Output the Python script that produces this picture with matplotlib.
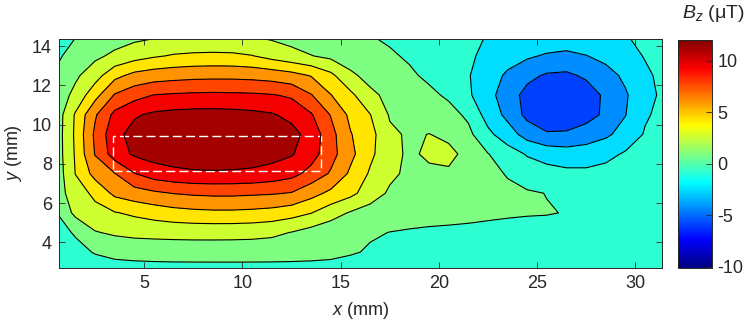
"""Filled contour map of Bz over the scanned area, with colorbar."""

import matplotlib
matplotlib.use("Agg")
import matplotlib.pyplot as plt
import numpy as np

from matplotlib.cm import ScalarMappable
from matplotlib.colors import LinearSegmentedColormap, Normalize
from matplotlib.patches import Rectangle

plt.rcParams['font.family'] = ['Liberation Sans', 'DejaVu Sans']
plt.rcParams['axes.unicode_minus'] = False
plt.rcParams['mathtext.fontset'] = 'custom'
plt.rcParams['mathtext.rm'] = 'Liberation Sans'
plt.rcParams['mathtext.it'] = 'Liberation Sans:italic'

# scan grid (mm)
x_mm = [0.5, 1.5, 2.5, 3.5, 4.5, 5.5, 6.5, 7.5, 8.5, 9.5, 10.5, 11.5, 12.5,
        13.5, 14.5, 15.5, 16.5, 17.5, 18.5, 19.5, 20.5, 21.5, 22.5, 23.5,
        24.5, 25.5, 26.5, 27.5, 28.5, 29.5, 30.5, 31.5]
y_mm = [2.5, 3.5, 4.5, 5.5, 6.5, 7.5, 8.5, 9.5, 10.5, 11.5, 12.5, 13.5, 14.5]

# Bz (uT), one row per y value
bz_y02_5 = [-0.2, -0.05, 0.05, 0.12, 0.17, 0.2, 0.2, 0.2, 0.2, 0.2, 0.2, 0.2,
            0.2, 0.18, 0.15, 0.1, 0.05, 0.05, 0.1, 0.15, 0.2, 0.2, 0.2, 0.2,
            0.2, 0.2, 0.2, 0.2, 0.2, 0.2, 0.2, 0.2]
bz_y03_5 = [0.1, 0.45, 1.0, 1.35, 1.48, 1.55, 1.6, 1.62, 1.63, 1.63, 1.62, 1.6,
            1.55, 1.48, 1.35, 1.05, 0.75, 0.6, 0.5, 0.45, 0.42, 0.4, 0.38,
            0.35, 0.33, 0.3, 0.3, 0.3, 0.3, 0.3, 0.3, 0.3]
bz_y04_5 = [0.35, 1.05, 2.5, 2.85, 3.05, 3.12, 3.17, 3.2, 3.2, 3.18, 3.12,
            2.95, 2.55, 1.95, 1.55, 1.25, 1.05, 0.88, 0.8, 0.75, 0.72, 0.68,
            0.6, 0.5, 0.42, 0.38, 0.35, 0.32, 0.3, 0.3, 0.3, 0.3]
bz_y05_5 = [0.8, 3.05, 3.75, 4.2, 4.6, 5.0, 5.35, 5.55, 5.65, 5.65, 5.55, 5.35,
            4.95, 4.35, 3.3, 2.45, 1.9, 1.55, 1.35, 1.25, 1.2, 1.15, 1.1,
            1.05, 1.0, 0.97, 0.85, 0.5, 0.4, 0.35, 0.35, 0.35]
bz_y06_5 = [1.8, 3.45, 4.7, 6.4, 7.0, 7.45, 7.8, 8.0, 8.1, 8.1, 8.0, 7.9,
            7.65, 6.6, 5.6, 4.75, 3.45, 2.35, 1.95, 1.8, 1.65, 1.5, 1.35,
            1.2, 1.05, 0.87, 0.5, 0.35, 0.3, 0.3, 0.3, 0.35]
bz_y07_5 = [1.5, 4.35, 6.6, 7.7, 9.4, 10.3, 10.7, 10.9, 10.95, 10.9, 10.8,
            10.5, 10.0, 8.9, 7.55, 5.7, 4.1, 2.95, 2.25, 2.25, 2.4, 1.85, 1.3,
            0.8, 0.2, -0.2, -0.4, -0.4, -0.2, 0.0, 0.15, 0.3]
bz_y08_5 = [1.6, 4.5, 7.85, 10.3, 11.4, 11.85, 12.05, 12.15, 12.2, 12.15,
            12.0, 11.75, 11.3, 10.15, 8.4, 6.45, 4.65, 3.2, 2.3, 2.9, 2.95,
            2.2, 0.95, 0.0, -0.95, -1.45, -1.75, -1.75, -1.3, -0.6, -0.2, 0.1]
bz_y09_5 = [1.6, 4.6, 8.1, 10.6, 11.8, 12.0, 12.15, 12.25, 12.3, 12.25, 12.15,
            12.0, 11.7, 10.5, 8.35, 6.1, 4.9, 2.9, 2.4, 2.63, 2.3, 1.3, -0.4,
            -1.75, -3.25, -4.1, -4.0, -3.4, -2.85, -1.9, -0.65, -0.1]
bz_y10_5 = [1.55, 4.5, 7.55, 9.9, 10.95, 11.45, 11.65, 11.75, 11.75, 11.7,
            11.55, 11.3, 10.7, 9.6, 7.65, 5.6, 4.35, 2.45, 2.05, 1.8, 1.45,
            0.6, -1.5, -3.0, -4.7, -5.2, -5.4, -4.95, -3.9, -2.6, -1.0, -0.3]
bz_y11_5 = [1.5, 3.1, 5.4, 7.9, 8.85, 9.5, 9.65, 9.75, 9.8, 9.75, 9.7, 9.55,
            9.2, 7.85, 6.05, 4.7, 2.95, 2.2, 1.7, 1.25, 0.65, -0.55, -1.95,
            -3.5, -4.75, -5.45, -5.55, -5.05, -3.95, -2.75, -1.3, -0.45]
bz_y12_5 = [1.1, 2.3, 3.6, 5.5, 6.5, 6.9, 7.1, 7.25, 7.3, 7.3, 7.2, 7.0, 6.6,
            5.9, 4.7, 2.9, 2.1, 1.7, 1.15, 0.6, 0.0, -0.7, -1.7, -2.85, -3.85,
            -4.45, -4.55, -4.0, -3.2, -2.2, -1.1, -0.35]
bz_y13_5 = [0.6, 1.5, 2.25, 2.95, 3.6, 4.1, 4.45, 4.6, 4.65, 4.6, 4.35, 3.7,
            3.15, 2.65, 2.2, 1.8, 1.45, 1.1, 0.7, 0.35, 0.0, -0.55, -1.2, -1.8,
            -2.3, -2.75, -3.0, -2.6, -2.05, -1.4, -0.7, -0.2]
bz_y14_5 = [0.3, 0.85, 1.35, 1.8, 2.15, 2.4, 2.62, 2.7, 2.72, 2.7, 2.58, 2.3,
            1.95, 1.65, 1.35, 1.1, 0.95, 0.65, 0.35, 0.05, -0.25, -0.55,
            -0.85, -1.05, -1.2, -1.3, -1.3, -1.2, -1.05, -0.85, -0.55, -0.25]

contour_levels = [-5.95, -4.25, -2.55, -0.8, 0.9, 2.6, 4.3, 6.0, 7.75, 9.45,
                  11.15, 12.5]
color_limits = (-10.1, 12.0)
cbar_ticks = [-10, -5, 0, 5, 10]

# marked region (dashed box)
box_x = (3.4, 14.0)
box_y = (7.64, 9.42)

bz = np.vstack([bz_y02_5, bz_y03_5, bz_y04_5, bz_y05_5, bz_y06_5, bz_y07_5,
                bz_y08_5, bz_y09_5, bz_y10_5, bz_y11_5, bz_y12_5, bz_y13_5,
                bz_y14_5])

# matlab-style jet
jet_ml = LinearSegmentedColormap.from_list(
    'jet_ml', [(0.0, (0, 0, 0.5)), (1 / 8, (0, 0, 1)), (3 / 8, (0, 1, 1)),
               (5 / 8, (1, 1, 0)), (7 / 8, (1, 0, 0)), (1.0, (0.5, 0, 0))])
norm = Normalize(*color_limits)
# each band takes the colour of its lower level, like contourf in matlab
fill_colors = [jet_ml(norm(lev)) for lev in contour_levels[:-1]]

edge = '#262626'
fs = 13

fig = plt.figure(figsize=(7.47, 3.25), dpi=100)
ax = fig.add_axes([59 / 747, 57 / 325, 603 / 747, 229 / 325])

ax.contourf(x_mm, y_mm, bz, levels=contour_levels, colors=fill_colors)
ax.contour(x_mm, y_mm, bz, levels=contour_levels[1:-1], colors='k',
           linewidths=0.8, linestyles='solid')

ax.add_patch(Rectangle((box_x[0], box_y[0]), box_x[1] - box_x[0],
                       box_y[1] - box_y[0], fill=False, edgecolor='white',
                       linewidth=1.0, linestyle=(0, (6.5, 3))))

ax.set_xlim(0.66, 31.36)
ax.set_ylim(2.69, 14.36)
ax.set_xticks([5, 10, 15, 20, 25, 30])
ax.set_yticks([4, 6, 8, 10, 12, 14])
ax.tick_params(direction='in', top=True, right=True, length=4, width=0.6,
               color=edge, labelcolor=edge, labelsize=fs, pad=5)
for sp in ax.spines.values():
    sp.set_color(edge)
    sp.set_linewidth(0.7)
ax.set_xlabel('$x$ (mm)', fontsize=fs, color=edge, labelpad=6)
ax.set_ylabel('$y$ (mm)', fontsize=fs, color=edge, labelpad=6)

# colorbar
cax = fig.add_axes([678 / 747, 57 / 325, 34 / 747, 228 / 325])
cb = fig.colorbar(ScalarMappable(norm=norm, cmap=jet_ml), cax=cax,
                  ticks=cbar_ticks)
cb.ax.tick_params(direction='in', length=4, width=0.6, color=edge,
                  labelcolor=edge, labelsize=fs, pad=4)
cb.outline.set_edgecolor(edge)
cb.outline.set_linewidth(0.7)
fig.text(682 / 747, 1 - 13 / 325, '$B_z$ (μT)', ha='left', va='center',
         fontsize=fs + 1, color=edge)

fig.savefig('out.png', dpi=100)
